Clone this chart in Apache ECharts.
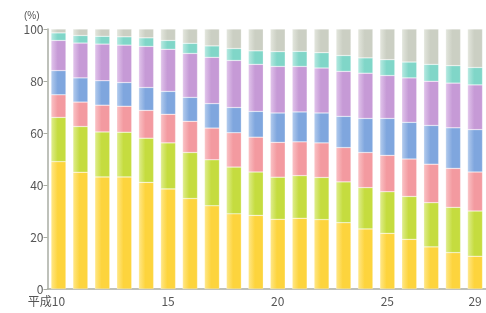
<!DOCTYPE html>
<html>
<head>
<meta charset="utf-8">
<script src="https://cdn.jsdelivr.net/npm/echarts@6/dist/echarts.min.js"></script>
<style>
html, body { margin: 0; padding: 0; background: #fff; }
#chart { width: 486px; height: 313px; }
</style>
</head>
<body>
<div id="chart"></div>
<script>
// 年度（平成）
var years = ['10','11','12','13','14','15','16','17','18','19','20','21','22','23','24','25','26','27','28','29'];
var shownYears = ['10','15','20','25','29'];
var yTicks = [0, 20, 40, 60, 80, 100];

// 構成比（%）下から順に
var s1 = [49.0, 44.9, 43.1, 43.1, 41.0, 38.5, 34.8, 32.0, 28.9, 28.3, 26.8, 27.2, 26.7, 25.5, 23.1, 21.4, 19.1, 16.2, 14.0, 12.6];
var s2 = [17.0, 17.6, 17.3, 17.2, 17.0, 17.7, 17.7, 17.7, 18.0, 16.7, 16.2, 16.4, 16.2, 15.7, 15.9, 16.0, 16.5, 17.0, 17.4, 17.4];
var s3 = [8.7, 9.4, 10.3, 10.0, 10.7, 11.0, 12.0, 12.2, 13.2, 13.4, 13.4, 13.0, 13.3, 13.2, 13.5, 14.0, 14.4, 14.8, 15.0, 15.0];
var s4 = [9.3, 9.3, 9.4, 9.1, 8.8, 8.8, 9.2, 9.4, 9.7, 9.9, 11.3, 11.5, 11.5, 12.0, 13.1, 14.2, 14.1, 14.9, 15.6, 16.3];
var s5 = [11.6, 13.4, 14.1, 14.4, 15.8, 16.2, 16.9, 17.8, 18.1, 18.1, 17.9, 17.5, 17.3, 17.3, 17.4, 16.5, 17.1, 17.0, 17.2, 17.2];
var s6 = [2.9, 2.9, 3.0, 3.2, 3.3, 3.4, 3.9, 4.4, 4.6, 5.2, 5.7, 5.8, 5.9, 6.1, 5.9, 6.1, 6.1, 6.5, 6.7, 6.7];
var s7 = [1.5, 2.5, 2.8, 3.0, 3.4, 4.4, 5.5, 6.5, 7.5, 8.4, 8.7, 8.6, 9.1, 10.2, 11.1, 11.8, 12.7, 13.6, 14.1, 14.8];

var stacks = [s1, s2, s3, s4, s5, s6, s7];
var colors = ['#FDD43D', '#C5DC3F', '#F39AA0', '#7FA6DE', '#C69AD6', '#80D6C8', '#CBCFC3'];
var lights = ['#FFE88A', '#E0EE90', '#FAC4C7', '#B5CDEE', '#E2C6EC', '#B8EAE2', '#E4E7DE'];

var myChart = echarts.init(document.getElementById('chart'));

var series = [];
for (var i = 0; i < stacks.length; i++) {
	series.push({
		type: 'bar',
		stack: 'total',
		barWidth: 15,
		data: stacks[i],
		itemStyle: {
			color: new echarts.graphic.LinearGradient(0, 0, 1, 0, [
				{ offset: 0, color: lights[i] },
				{ offset: 0.45, color: colors[i] },
				{ offset: 1, color: colors[i] }
			]),
			borderColor: 'rgba(255,255,255,0.5)',
			borderWidth: 0.5
		}
	});
}

var option = {
	animation: false,
	grid: { left: 47.5, right: -2, top: 29, bottom: 24 },
	xAxis: {
		type: 'category',
		data: years,
		axisLine: { lineStyle: { color: '#a9aca3', width: 1.5 } },
		axisTick: { show: false },
		axisLabel: {
			interval: function (idx, v) { return shownYears.indexOf(v) >= 0; },
			color: '#555',
			fontSize: 12,
			margin: 6,
			fontFamily: 'Noto Sans CJK JP',
			formatter: function (v, idx) {
				if (idx === 0) return '{a|平成}{b|' + v + '}{pad|}';
				return '{b|' + v + '}';
			},
			rich: {
				a: { fontSize: 12, color: '#555', fontFamily: 'Noto Sans CJK JP' },
				b: { fontSize: 12, color: '#555', fontFamily: 'Noto Sans CJK JP' },
				pad: { width: 24 }
			}
		}
	},
	yAxis: {
		type: 'value',
		min: 0,
		max: 100,
		interval: 20,
		name: '(%)',
		nameLocation: 'end',
		nameGap: 8,
		nameTextStyle: { color: '#555', fontSize: 10, align: 'right', padding: [0, 8, 0, 0] },
		axisLine: { show: true, lineStyle: { color: '#a9aca3', width: 1.5 } },
		axisTick: { show: true, length: 4, lineStyle: { color: '#a9aca3' } },
		splitLine: { show: false },
		axisLabel: { color: '#555', fontSize: 12, margin: 4, fontFamily: 'Noto Sans CJK JP' }
	},
	series: series
};

myChart.setOption(option);
</script>
</body>
</html>
